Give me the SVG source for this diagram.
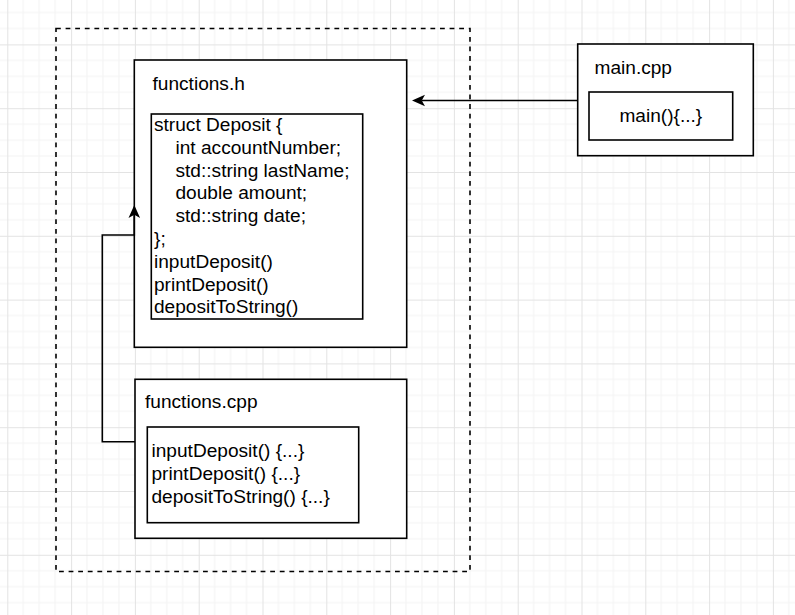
<svg xmlns="http://www.w3.org/2000/svg" width="795" height="615" viewBox="0 0 795 615">
<defs>
<pattern id="grid" patternUnits="userSpaceOnUse" x="7.3" y="-19.4" width="63.8" height="63.8">
<rect width="63.8" height="63.8" fill="#ffffff"/>
<path d="M15.95 0V63.8M31.9 0V63.8M47.85 0V63.8M0 15.95H63.8M0 31.9H63.8M0 47.85H63.8" stroke="#f3f3f3" stroke-width="1" fill="none"/>
<path d="M0.5 0V63.8M0 0.5H63.8" stroke="#e3e3e3" stroke-width="1" fill="none"/>
</pattern>
<marker id="arrow" markerUnits="userSpaceOnUse" viewBox="0 -7 14 14" refX="3.25" refY="0" markerWidth="14" markerHeight="14" orient="auto">
<path d="M0 -5.8L13 0L0 5.8L3.25 0Z" fill="#000000"/>
</marker>
</defs>
<style>
.box{fill:#ffffff;stroke:#000000;stroke-width:1.6}
.dash{fill:none;stroke:#000000;stroke-width:1.6;stroke-dasharray:4.8 4.8}
.t{font-family:"Liberation Sans",Arial,sans-serif;font-size:19.1px;fill:#000000}
.edge{fill:none;stroke:#000000;stroke-width:1.6;marker-end:url(#arrow)}
</style>
<rect width="795" height="615" fill="url(#grid)"/>
<g id="container">
<rect class="dash" x="56" y="28.5" width="414" height="543"/>
</g>
<g id="functions-h">
<rect class="box" x="134.3" y="60" width="272.4" height="287.3"/>
<text class="t" x="152.5" y="90">functions.h</text>
<g id="struct-deposit">
<rect class="box" x="151.3" y="114" width="211.4" height="205"/>
<text class="t" x="154" y="131">struct Deposit {</text>
<text class="t" x="175.5" y="153.8">int accountNumber;</text>
<text class="t" x="175.5" y="176.6">std::string lastName;</text>
<text class="t" x="175.5" y="199.4">double amount;</text>
<text class="t" x="175.5" y="222.2">std::string date;</text>
<text class="t" x="154" y="245">};</text>
<text class="t" x="154" y="267.8">inputDeposit()</text>
<text class="t" x="154" y="290.6">printDeposit()</text>
<text class="t" x="154" y="313.4">depositToString()</text>
</g>
</g>
<g id="functions-cpp">
<rect class="box" x="135" y="379.3" width="271.7" height="159"/>
<text class="t" x="145" y="408.3">functions.cpp</text>
<g id="cpp-impl">
<rect class="box" x="147.3" y="427" width="211.4" height="95.7"/>
<text class="t" x="151.5" y="457.3">inputDeposit() {...}</text>
<text class="t" x="151.5" y="480.1">printDeposit() {...}</text>
<text class="t" x="151.5" y="502.9">depositToString() {...}</text>
</g>
</g>
<g id="main-cpp">
<rect class="box" x="577.7" y="44" width="175.6" height="111.7"/>
<text class="t" x="594.5" y="74.3">main.cpp</text>
<g id="main-func">
<rect class="box" x="589" y="92" width="143.7" height="48"/>
<text class="t" x="660.8" y="122.3" text-anchor="middle">main(){...}</text>
</g>
</g>
<g id="connectors">
<path class="edge" d="M577.7 100.5H421.75"/>
<path class="edge" d="M135 441.7H102.3V235H134.3V214.75"/>
</g>
</svg>
